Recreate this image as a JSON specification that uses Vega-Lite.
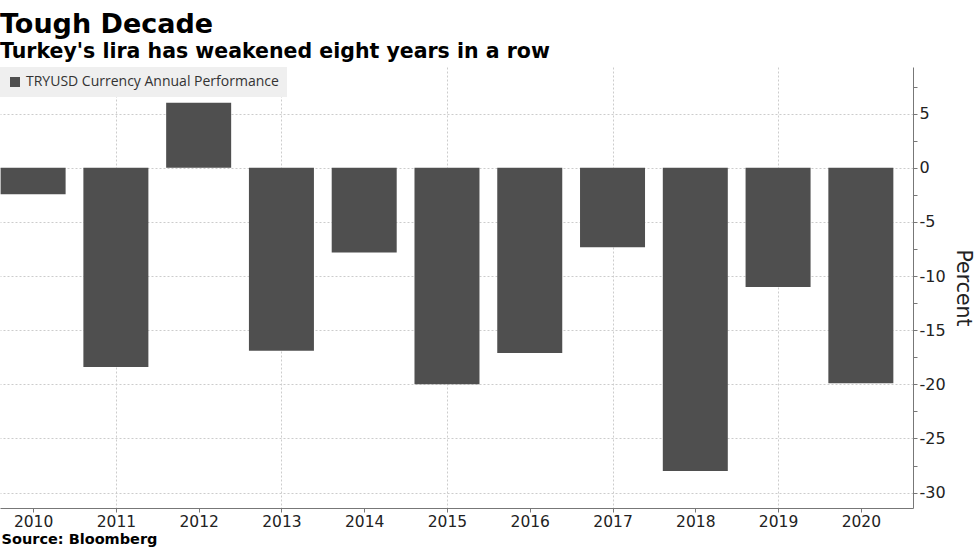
{
  "$schema": "https://vega.github.io/schema/vega-lite/v6.json",
  "width": 913,
  "height": 441,
  "autosize": {"type": "none"},
  "padding": {"left": 0, "top": 67, "right": 64, "bottom": 41},
  "background": "white",
  "title": {
    "text": "Tough Decade",
    "subtitle": "Turkey's lira has weakened eight years in a row",
    "anchor": "start",
    "frame": "group",
    "font": "DejaVu Sans",
    "fontSize": 27,
    "fontWeight": "bold",
    "color": "#000000",
    "subtitleFont": "DejaVu Sans",
    "subtitleFontSize": 20.5,
    "subtitleFontWeight": "bold",
    "subtitleColor": "#000000",
    "subtitlePadding": 3,
    "offset": 4
  },
  "data": {
    "values": [
      {"year": 2010, "value": -2.44, "series": "TRYUSD Currency Annual Performance"},
      {"year": 2011, "value": -18.4, "series": "TRYUSD Currency Annual Performance"},
      {"year": 2012, "value": 6.0, "series": "TRYUSD Currency Annual Performance"},
      {"year": 2013, "value": -16.9, "series": "TRYUSD Currency Annual Performance"},
      {"year": 2014, "value": -7.83, "series": "TRYUSD Currency Annual Performance"},
      {"year": 2015, "value": -20.0, "series": "TRYUSD Currency Annual Performance"},
      {"year": 2016, "value": -17.1, "series": "TRYUSD Currency Annual Performance"},
      {"year": 2017, "value": -7.34, "series": "TRYUSD Currency Annual Performance"},
      {"year": 2018, "value": -28.0, "series": "TRYUSD Currency Annual Performance"},
      {"year": 2019, "value": -11.0, "series": "TRYUSD Currency Annual Performance"},
      {"year": 2020, "value": -19.9, "series": "TRYUSD Currency Annual Performance"}
    ]
  },
  "mark": {"type": "bar", "width": 65, "clip": true},
  "encoding": {
    "x": {
      "field": "year",
      "type": "quantitative",
      "scale": {"domain": [2009.6, 2020.63], "nice": false, "zero": false, "padding": 0},
      "axis": {
        "values": [2010, 2011, 2012, 2013, 2014, 2015, 2016, 2017, 2018, 2019, 2020],
        "format": "d",
        "title": "Source: Bloomberg",
        "titleFont": "DejaVu Sans",
        "titleFontSize": 14.5,
        "titleFontWeight": "bold",
        "titleColor": "#000000",
        "titleAnchor": "start",
        "titleAlign": "left",
        "titleX": 1,
        "titleY": 35,
        "titleBaseline": "alphabetic",
        "labelFont": "DejaVu Sans",
        "labelFontSize": 15.5,
        "labelColor": "#222222",
        "labelPadding": 2,
        "labelFlush": false,
        "domainColor": "#777777",
        "tickColor": "#777777",
        "tickSize": 4,
        "grid": true,
        "gridColor": "#cccccc",
        "gridDash": [2, 2],
        "gridOpacity": {"condition": {"test": "datum.value % 2 === 0", "value": 0}, "value": 1}
      }
    },
    "y": {
      "field": "value",
      "type": "quantitative",
      "scale": {"domain": [-31.42, 9.31], "nice": false, "zero": false, "padding": 0},
      "axis": {
        "orient": "right",
        "values": [-30, -27.5, -25, -22.5, -20, -17.5, -15, -12.5, -10, -7.5, -5, -2.5, 0, 2.5, 5, 7.5],
        "labelExpr": "datum.value % 5 === 0 ? replace(datum.label, '−', '-') : ''",
        "title": "Percent",
        "titleFont": "DejaVu Sans",
        "titleFontSize": 20.5,
        "titleFontWeight": "normal",
        "titleColor": "#222222",
        "titleAngle": 90,
        "titlePadding": 7,
        "labelFont": "DejaVu Sans",
        "labelFontSize": 16,
        "labelColor": "#222222",
        "labelPadding": 2,
        "domainColor": "#777777",
        "tickColor": "#777777",
        "tickSize": 4,
        "grid": true,
        "gridColor": "#cccccc",
        "gridDash": [2, 2],
        "gridOpacity": {"condition": {"test": "datum.value % 5 !== 0", "value": 0}, "value": 1}
      }
    },
    "color": {
      "field": "series",
      "type": "nominal",
      "scale": {"range": ["#4f4f4f"]},
      "legend": {
        "title": null,
        "orient": "top-left",
        "offset": 0,
        "padding": 8,
        "fillColor": "#efefef",
        "symbolType": "square",
        "symbolSize": 100,
        "symbolStrokeWidth": 0,
        "labelFont": "Open Sans",
        "labelFontSize": 14,
        "labelColor": "#333333",
        "labelOffset": 4,
        "labelLimit": 0
      }
    }
  },
  "config": {
    "view": {"stroke": null},
    "axis": {"labelFontWeight": "normal"}
  }
}
